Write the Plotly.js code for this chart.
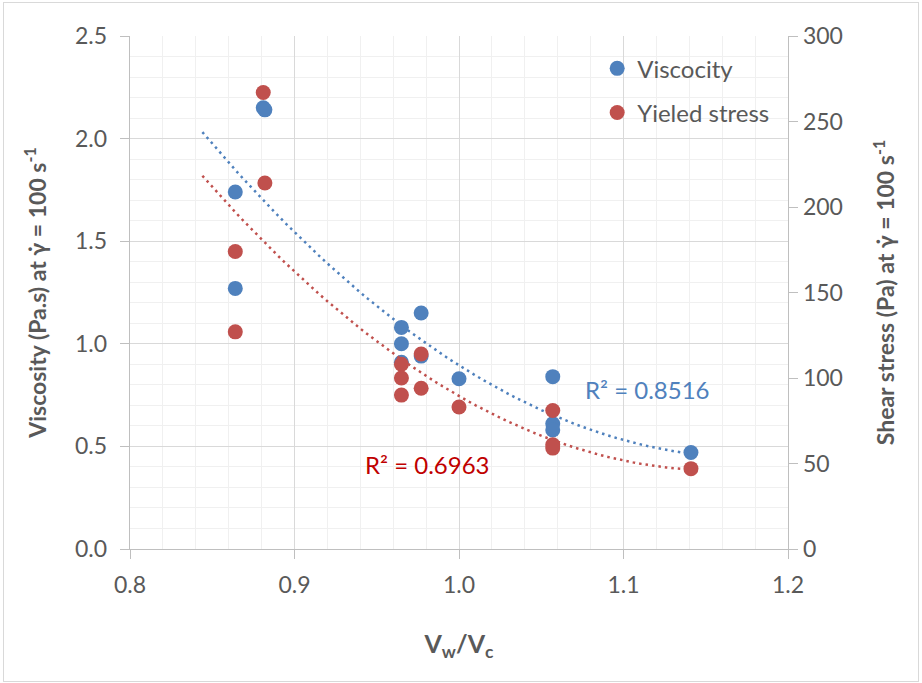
<!DOCTYPE html>
<html>
<head>
<meta charset="utf-8">
<script src="https://cdn.plot.ly/plotly-3.0.1.min.js"></script>
<style>
  body { margin: 0; background: #ffffff; }
  #chart { width: 922px; height: 683px; }
  #frame { position: absolute; left: 3px; top: 2px; width: 914px; height: 678px; border: 1px solid #d9d9d9; pointer-events: none; }
</style>
</head>
<body>
<div id="chart"></div>
<div id="frame"></div>
<script>
// Vw/Vc ratio and viscosity (Pa.s) at 100 1/s
var viscRatio = [0.864, 0.864, 0.881, 0.882, 0.965, 0.965, 0.965, 0.977, 0.977, 1.000, 1.057, 1.057, 1.057, 1.141];
var viscosity = [1.74, 1.27, 2.15, 2.14, 1.08, 1.00, 0.91, 1.15, 0.94, 0.83, 0.84, 0.61, 0.58, 0.47];

// Vw/Vc ratio and yield (shear) stress (Pa)
var stressRatio = [0.864, 0.864, 0.881, 0.882, 0.965, 0.965, 0.965, 0.977, 0.977, 1.000, 1.057, 1.057, 1.057, 1.141];
var yieldStress = [174, 127, 267, 214, 108, 100, 90, 114, 94, 83, 81, 61, 59, 47];

var viscLabel = "Viscocity";
var stressLabel = "Yieled stress";
var viscR2 = "R² = 0.8516";
var stressR2 = "R² = 0.6963";

var blue = "#4F81BD";
var red = "#C0504D";
var grey = "#595959";
var fontFamily = "Lato, 'Open Sans', sans-serif";

// least squares polynomial fit, order 2 (like Excel trendline)
function polyFit2(x, y)
{
    var s = [0, 0, 0, 0, 0];
    var t = [0, 0, 0];
    for (var i = 0; i < x.length; i++)
    {
        var p = 1;
        for (var k = 0; k < 5; k++)
        {
            s[k] += p;
            if (k < 3) t[k] += p * y[i];
            p *= x[i];
        }
    }
    var m = [[s[0], s[1], s[2], t[0]], [s[1], s[2], s[3], t[1]], [s[2], s[3], s[4], t[2]]];
    for (var c = 0; c < 3; c++)
    {
        for (var r = c + 1; r < 3; r++)
        {
            var f = m[r][c] / m[c][c];
            for (var j = c; j < 4; j++) m[r][j] -= f * m[c][j];
        }
    }
    var coef = [0, 0, 0];
    for (var r2 = 2; r2 >= 0; r2--)
    {
        var v = m[r2][3];
        for (var j2 = r2 + 1; j2 < 3; j2++) v -= m[r2][j2] * coef[j2];
        coef[r2] = v / m[r2][r2];
    }
    return coef;
}

function trendLine(x, y, backward)
{
    var coef = polyFit2(x, y);
    var minX = Math.min.apply(null, x) - backward;
    var maxX = Math.max.apply(null, x);
    var lineX = [];
    var lineY = [];
    for (var i = 0; i < 60; i++)
    {
        var xi = minX + i * (maxX - minX) / 59;
        lineX.push(xi);
        lineY.push(coef[0] + coef[1] * xi + coef[2] * xi * xi);
    }
    return { x: lineX, y: lineY };
}

var viscTrend = trendLine(viscRatio, viscosity, 0.02);
var stressTrend = trendLine(stressRatio, yieldStress, 0.02);

var plotData = [
    {
        x: viscTrend.x, y: viscTrend.y, mode: "lines", type: "scatter",
        line: { color: blue, width: 2.5, dash: "2.5px,4px" },
        showlegend: false, hoverinfo: "skip"
    },
    {
        x: stressTrend.x, y: stressTrend.y, yaxis: "y2", mode: "lines", type: "scatter",
        line: { color: red, width: 2.5, dash: "2.5px,4px" },
        showlegend: false, hoverinfo: "skip"
    },
    {
        x: viscRatio, y: viscosity, mode: "markers", type: "scatter", name: viscLabel,
        legendgroup: "a",
        marker: { color: blue, size: 15 }
    },
    {
        x: stressRatio, y: yieldStress, yaxis: "y2", mode: "markers", type: "scatter", name: stressLabel,
        legendgroup: "b",
        marker: { color: red, size: 15 }
    }
];

var axisCommon = {
    showline: true,
    linecolor: "#bfbfbf",
    linewidth: 1.3,
    ticks: "outside",
    ticklen: 9,
    tickcolor: "#bfbfbf",
    zeroline: false,
    tickfont: { family: fontFamily, size: 23, color: grey }
};

var layout = {
    width: 922,
    height: 683,
    margin: { l: 130, r: 134, t: 36, b: 134 },
    paper_bgcolor: "#ffffff",
    plot_bgcolor: "#ffffff",
    font: { family: fontFamily, color: grey },
    xaxis: Object.assign({}, axisCommon, {
        range: [0.8, 1.2],
        dtick: 0.1,
        tick0: 0.8,
        tickformat: ".1f",
        ticklabelstandoff: 6,
        showgrid: true,
        gridcolor: "#d9d9d9",
        minor: { dtick: 0.02, showgrid: true, gridcolor: "#f0f0f0", ticks: "" },
        title: { text: "V<sub>w</sub>/V<sub>c</sub>", standoff: 38, font: { family: fontFamily, size: 25, color: grey, weight: "bold" } }
    }),
    yaxis: Object.assign({}, axisCommon, {
        range: [0, 2.5],
        dtick: 0.5,
        tickformat: ".1f",
        ticklabelstandoff: 8,
        showgrid: true,
        gridcolor: "#d9d9d9",
        minor: { dtick: 0.1, showgrid: true, gridcolor: "#f0f0f0", ticks: "" },
        title: { text: "Viscosity (Pa.s) at γ̇ = 100 s<sup>-1</sup>", standoff: 22, font: { family: fontFamily, size: 23, color: grey, weight: "bold" } }
    }),
    yaxis2: Object.assign({}, axisCommon, {
        overlaying: "y",
        side: "right",
        range: [0, 300],
        dtick: 50,
        showgrid: false,
        title: { text: "Shear stress (Pa) at γ̇ = 100 s<sup>-1</sup>", standoff: 36, font: { family: fontFamily, size: 23, color: grey, weight: "bold" } }
    }),
    legend: {
        x: 0.71, y: 0.98, xanchor: "left", yanchor: "top",
        bgcolor: "rgba(255,255,255,0)",
        font: { family: fontFamily, size: 24, color: grey },
        traceorder: "grouped",
        tracegroupgap: 10,
        itemwidth: 30
    },
    annotations: [
        { x: 1.1145, y: 0.775, xref: "x", yref: "y", text: viscR2, showarrow: false, font: { family: fontFamily, size: 24, color: blue } },
        { x: 0.981, y: 0.41, xref: "x", yref: "y", text: stressR2, showarrow: false, font: { family: fontFamily, size: 24, color: "#C00000" } }
    ]
};

var config = { staticPlot: true, displayModeBar: false };

Plotly.newPlot("chart", plotData, layout, config);
</script>
</body>
</html>
